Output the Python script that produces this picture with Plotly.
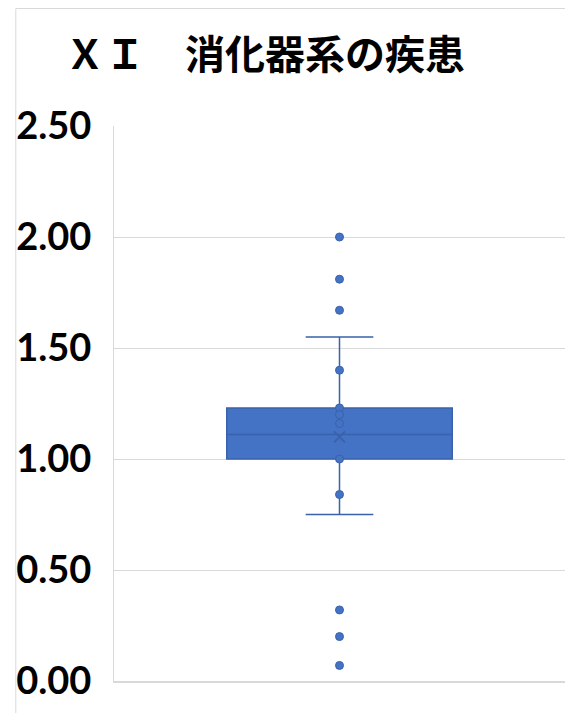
import plotly.graph_objects as go

title_text = "ＸＩ　消化器系の疾患"
category = [0]
q1 = [1.00]
median = [1.11]
q3 = [1.23]
lower_whisker = [0.75]
upper_whisker = [1.55]
mean_value = [1.10]
point_values = [2.00, 1.81, 1.67, 1.40, 1.23, 1.20, 1.16, 1.00, 0.84, 0.32, 0.20, 0.07]
tick_values = [0.0, 0.5, 1.0, 1.5, 2.0, 2.5]

BLUE = "#4472C4"
DARK = "#3A62AC"

fig = go.Figure()
fig.add_trace(go.Box(
    x=category, q1=q1, median=median, q3=q3,
    lowerfence=lower_whisker, upperfence=upper_whisker,
    boxpoints=False, width=1.0, whiskerwidth=0.3,
    fillcolor=BLUE, line=dict(color=DARK, width=1.5),
    showlegend=False, hoverinfo="skip",
))
fig.add_trace(go.Scatter(
    x=category * len(point_values), y=point_values, mode="markers",
    marker=dict(size=8, color=BLUE, line=dict(color=DARK, width=1)),
    showlegend=False, hoverinfo="skip",
))
fig.add_trace(go.Scatter(
    x=category, y=mean_value, mode="markers",
    marker=dict(symbol="x-thin-open", size=11, color=DARK, line=dict(color=DARK, width=1.8)),
    showlegend=False, hoverinfo="skip",
))

# page has an 8px body margin, so the figure is offset by (8, 8)
OFF = 8
L, R, T, B = 100, 8, 118, 32
W, H = 573 - OFF, 713 - OFF
pw, ph = W - L - R, H - T - B

def px_x(p):
    return (p - L) / pw

def px_y(p):
    return (H - B - p) / ph

fig.update_layout(
    width=W, height=H,
    margin=dict(l=L, r=R, t=T, b=B, pad=0),
    paper_bgcolor="white", plot_bgcolor="white",
    title=dict(
        text=title_text, xref="container", yref="container",
        x=(265 - OFF) / W, xanchor="center", y=1 - (55 - OFF) / H, yanchor="middle",
        font=dict(family="Noto Sans CJK JP", size=40, color="black", weight="bold"),
    ),
    xaxis=dict(range=[-1, 1], showticklabels=False, showgrid=False, zeroline=False,
               showline=True, linecolor="#D9D9D9", linewidth=1.5, ticks=""),
    yaxis=dict(range=[0, 2.5], tickvals=tick_values, tickformat=".2f",
               tickfont=dict(family="Lato", size=38, color="black", weight="bold"),
               showgrid=True, gridcolor="#D9D9D9", gridwidth=1,
               zeroline=False, showline=True, linecolor="#D9D9D9", linewidth=1,
               ticks="", ticklabelstandoff=14),
    shapes=[
        dict(type="line", xref="paper", yref="paper",
             x0=px_x(0.5), x1=px_x(0.5), y0=px_y(0.5), y1=px_y(720),
             line=dict(color="#D9D9D9", width=1)),
        dict(type="line", xref="paper", yref="paper",
             x0=px_x(0.5), x1=px_x(580), y0=px_y(0.5), y1=px_y(0.5),
             line=dict(color="#D9D9D9", width=1)),
    ],
)

fig.write_html("out.html")
